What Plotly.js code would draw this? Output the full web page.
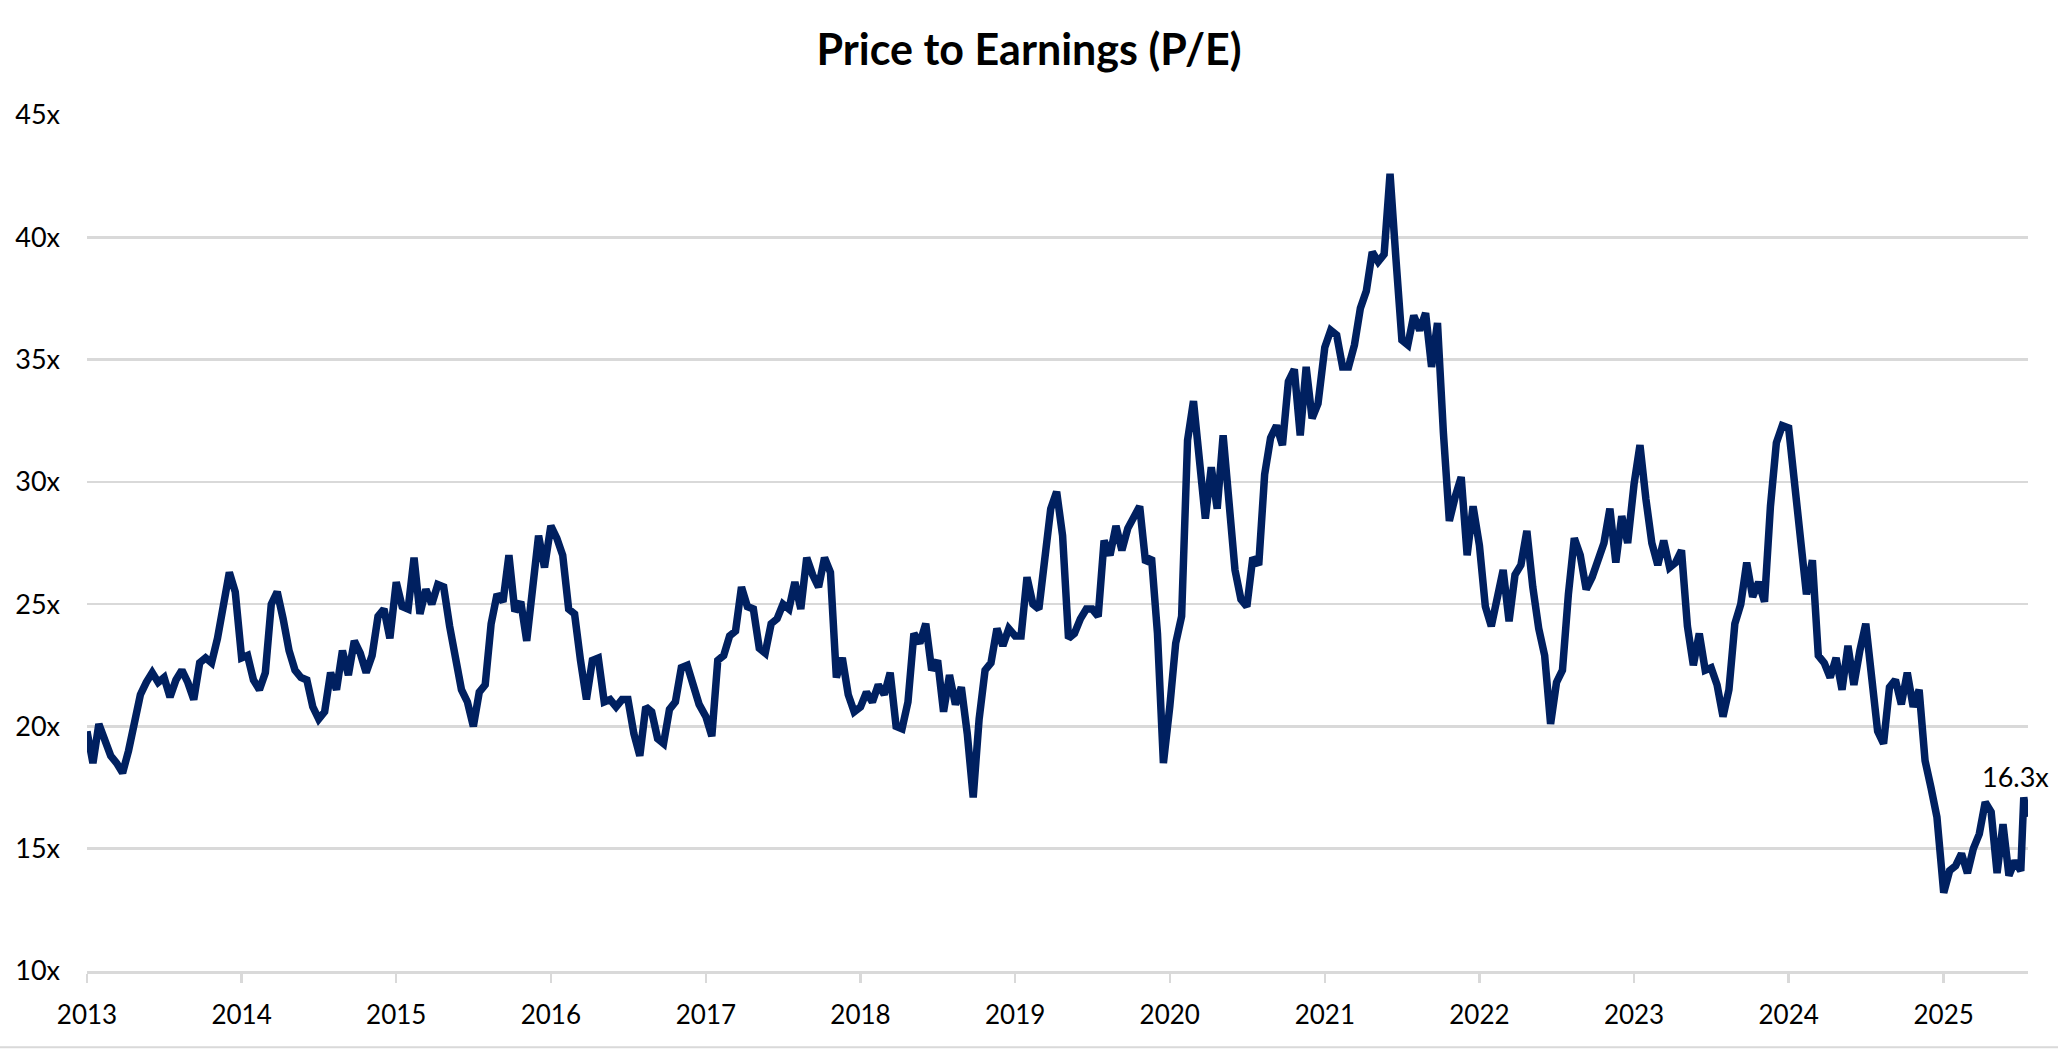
<!DOCTYPE html>
<html>
<head>
<meta charset="utf-8">
<script src="https://cdn.plot.ly/plotly-3.0.1.min.js"></script>
<style>
  html, body { margin: 0; padding: 0; background: #ffffff; }
  #grafico { width: 2058px; height: 1050px; }
</style>
</head>
<body>
<div id="grafico"></div>
<script>
// ============================================================================
// P/E (precio / ganancias) -- serie, un valor
// cada dos semanas (día 1 de enero + 14·k de cada año). Los picos semanales
// más marcados se aproximaron al punto quincenal más cercano.
// ============================================================================

const pe2013 = [19.8, 18.5, 20.1, 19.4, 18.8, 18.5, 18.1, 19.0, 20.1, 21.3, 21.8, 22.2, 21.8, 22.0, 21.2, 21.9, 22.3, 21.8, 21.1, 22.6, 22.8, 22.6, 23.6, 25.1, 26.3, 25.5];
const pe2014 = [22.8, 22.9, 21.9, 21.5, 22.2, 25.0, 25.5, 24.4, 23.1, 22.3, 22.0, 21.9, 20.8, 20.3, 20.6, 22.2, 21.5, 23.1, 22.1, 23.5, 23.0, 22.2, 22.9, 24.5, 24.8, 23.6];
const pe2015 = [25.9, 24.9, 24.8, 26.9, 24.6, 25.6, 25.0, 25.8, 25.7, 24.1, 22.7, 21.5, 21.0, 20.0, 21.4, 21.7, 24.2, 25.4, 25.1, 27.0, 24.7, 25.1, 23.5, 25.4, 27.8, 26.5];
const pe2016 = [28.2, 27.7, 27.0, 24.8, 24.6, 22.7, 21.1, 22.7, 22.8, 21.0, 21.1, 20.8, 21.1, 21.1, 19.7, 18.8, 20.8, 20.6, 19.5, 19.3, 20.7, 21.0, 22.4, 22.5, 21.7, 20.9];
const pe2017 = [20.4, 19.6, 22.7, 22.9, 23.7, 23.9, 25.7, 24.9, 24.8, 23.2, 23.0, 24.2, 24.4, 25.0, 24.8, 25.9, 24.8, 26.9, 26.2, 25.7, 26.9, 26.3, 22.0, 22.8, 21.3, 20.6];
const pe2018 = [20.8, 21.4, 21.0, 21.7, 21.3, 22.2, 20.0, 19.9, 21.0, 23.8, 23.4, 24.2, 22.3, 22.7, 20.6, 22.1, 20.9, 21.6, 19.7, 17.1, 20.3, 22.3, 22.6, 24.0, 23.3, 24.0];
const pe2019 = [23.7, 23.7, 26.1, 25.0, 24.8, 26.8, 28.9, 29.6, 27.8, 23.6, 23.8, 24.4, 24.8, 24.8, 24.5, 27.6, 27.0, 28.2, 27.2, 28.1, 28.6, 29.0, 26.7, 26.9, 23.8, 18.5];
const pe2020 = [20.8, 23.4, 24.5, 31.7, 33.3, 30.9, 28.5, 30.6, 28.9, 31.9, 28.8, 26.4, 25.2, 24.9, 26.9, 26.6, 30.3, 31.8, 32.3, 31.5, 34.1, 34.6, 31.9, 34.7, 32.6, 33.2];
const pe2021 = [35.5, 36.2, 36.0, 34.7, 34.7, 35.6, 37.1, 37.8, 39.4, 39.0, 39.3, 42.6, 39.1, 35.8, 35.6, 36.8, 36.2, 36.9, 34.7, 36.5, 32.0, 28.4, 29.4, 30.2, 27.0, 29.0];
const pe2022 = [27.4, 24.9, 24.1, 25.3, 26.4, 24.3, 26.2, 26.6, 28.0, 25.7, 24.0, 22.9, 20.1, 21.8, 22.3, 25.4, 27.7, 27.0, 25.6, 26.1, 26.7, 27.5, 28.9, 26.7, 28.6, 27.5];
const pe2023 = [29.9, 31.5, 29.3, 27.5, 26.6, 27.6, 26.5, 26.7, 27.2, 24.1, 22.5, 23.8, 22.3, 22.4, 21.7, 20.4, 21.5, 24.2, 25.0, 26.7, 25.3, 25.9, 25.1, 29.0, 31.6, 32.3];
const pe2024 = [32.2, 30.0, 27.4, 25.4, 26.8, 22.9, 22.6, 22.0, 22.8, 21.5, 23.3, 21.7, 23.1, 24.2, 22.0, 19.8, 19.3, 21.6, 21.9, 20.9, 22.2, 20.8, 21.5, 18.6, 17.5, 16.3];
const pe2025 = [13.2, 14.1, 14.3, 14.8, 14.0, 15.0, 15.6, 16.9, 16.5, 14.0, 16.0, 13.9, 14.5, 14.1];

// Últimas dos lecturas semanales (pico final y valor actual rotulado).
const fechasFinales = ['2025-07-09', '2025-07-16'];
const valoresFinales = [17.1, 16.3];

const seriePorAnio = [
  [2013, pe2013], [2014, pe2014], [2015, pe2015], [2016, pe2016], [2017, pe2017],
  [2018, pe2018], [2019, pe2019], [2020, pe2020], [2021, pe2021], [2022, pe2022],
  [2023, pe2023], [2024, pe2024], [2025, pe2025],
];

const aniosEje = [2013, 2014, 2015, 2016, 2017, 2018, 2019, 2020, 2021, 2022, 2023, 2024, 2025];
const ticksY = [10, 15, 20, 25, 30, 35, 40, 45];

const AZUL = '#002060';
const GRIS = '#d9d9d9';
const FUENTE = 'Lato, "Open Sans", "DejaVu Sans", sans-serif';

function fechaQuincenal(anio, k) {
  return new Date(Date.UTC(anio, 0, 1 + 14 * k)).toISOString().slice(0, 10);
}

const fechas = [];
const valores = [];
seriePorAnio.forEach(([anio, serie]) => {
  serie.forEach((v, k) => {
    fechas.push(fechaQuincenal(anio, k));
    valores.push(v);
  });
});
fechasFinales.forEach((f, i) => { fechas.push(f); valores.push(valoresFinales[i]); });

const ultimoValor = valores[valores.length - 1];

const traza = {
  type: 'scatter',
  mode: 'lines',
  x: fechas,
  y: valores,
  line: { color: AZUL, width: 7.5, shape: 'linear' },
  cliponaxis: false,
  hovertemplate: '%{x|%d/%m/%Y}: %{y:.1f}x<extra></extra>',
};

const layout = {
  width: 2058,
  height: 1050,
  margin: { l: 87, r: 30, t: 115, b: 79 },
  paper_bgcolor: '#ffffff',
  plot_bgcolor: '#ffffff',
  showlegend: false,
  font: { family: FUENTE, size: 26, color: '#000000' },
  title: {
    text: '<b>Price to Earnings (P/E)</b>',
    font: { family: FUENTE, size: 43, color: '#000000' },
    xref: 'container', x: 0.5, xanchor: 'center',
    yref: 'container', y: 0.952, yanchor: 'middle',
  },
  xaxis: {
    type: 'date',
    range: ['2013-01-01', '2025-07-19'],
    tickvals: aniosEje.map((a) => `${a}-01-01`),
    ticktext: aniosEje.map(String),
    ticks: 'outside', ticklen: 9, tickwidth: 2.5, tickcolor: GRIS,
    showline: true, linecolor: GRIS, linewidth: 2.5,
    showgrid: false, zeroline: false,
    ticklabelstandoff: 10,
    tickfont: { family: FUENTE, size: 26, color: '#000000' },
  },
  yaxis: {
    range: [10, 45],
    tickvals: ticksY,
    ticktext: ticksY.map((v) => `${v}x`),
    showgrid: true, gridcolor: GRIS, gridwidth: 2.5,
    zeroline: false, showline: false, ticks: '',
    ticklabelstandoff: 26,
    tickfont: { family: FUENTE, size: 27, color: '#000000' },
  },
  annotations: [{
    x: fechas[fechas.length - 1], y: ultimoValor, xref: 'x', yref: 'y',
    text: `${ultimoValor.toFixed(1)}x`,
    showarrow: false, xanchor: 'right', yanchor: 'bottom', xshift: 24, yshift: 22,
    font: { family: FUENTE, size: 27, color: '#000000' },
  }],
  shapes: [{
    // borde inferior del área del gráfico (línea tenue de la exportación original)
    type: 'line', xref: 'paper', yref: 'paper',
    x0: -0.045, x1: 1.016, y0: -0.089, y1: -0.089,
    line: { color: GRIS, width: 2 },
  }],
};

Plotly.newPlot('grafico', [traza], layout, { displayModeBar: false, staticPlot: true });
</script>
</body>
</html>
